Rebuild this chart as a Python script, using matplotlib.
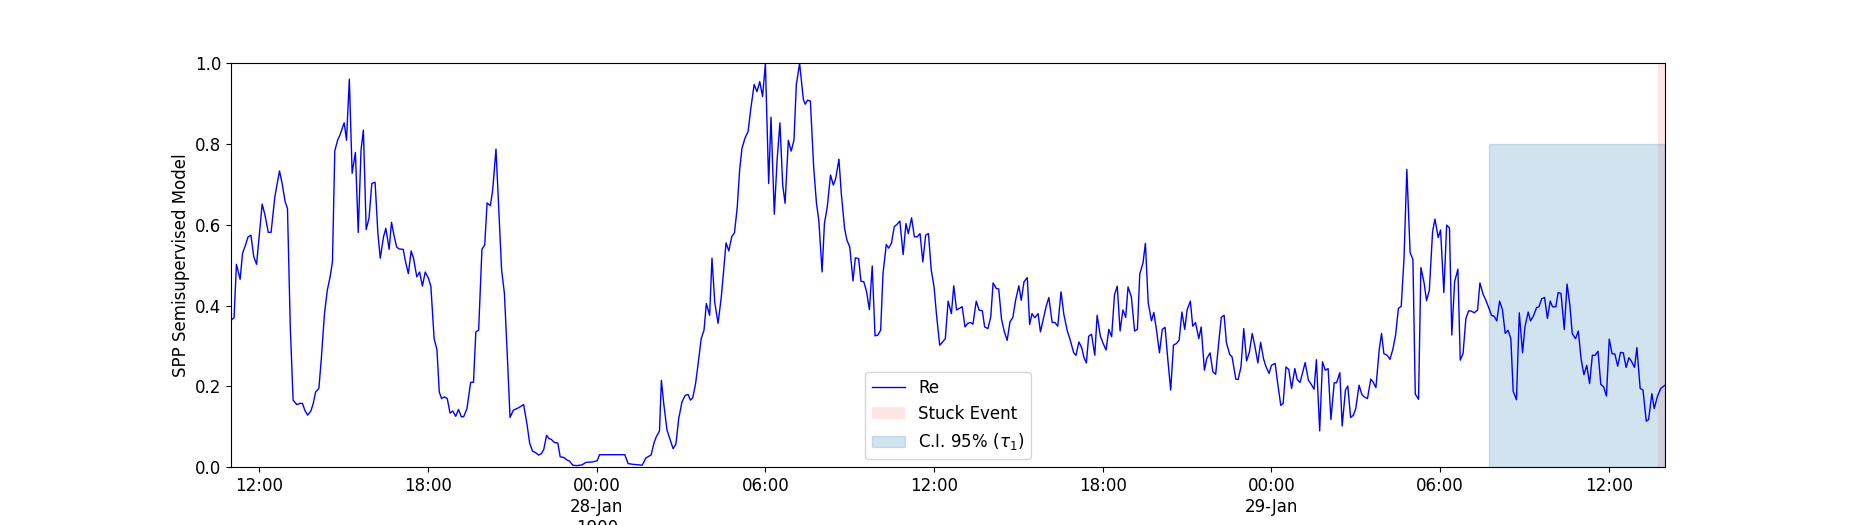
import matplotlib
matplotlib.use("Agg")
import matplotlib.pyplot as plt
import pandas as pd
import numpy as np

# ---------------- data ----------------
start_time = "1900-01-27 11:00"
end_minute = 3060  # 14:00 on 29-Jan

minutes_a = [0,6,11,19,24,29,36,42,48,54,60,66,72,79,85,93,103,108,115,120,126,132,140,147,152,157,163,170,175,180,187,192,199,205,211,216,221,227,232,241,246,252,258,265,271,277,282,288,294,300,307,313,318,325,330,337,342,348,353,358,367,372,378,384,389,396,402,408,414,421,426,433,439,444,449,455,461,467,473,479,485,491,496,503,511,517,522,528,535,541,546,553,558,565,570,577,583,589,595,602]
values_a = [0.364,0.370,0.502,0.465,0.529,0.545,0.570,0.574,0.521,0.502,0.578,0.651,0.624,0.581,0.581,0.669,0.733,0.706,0.657,0.640,0.347,0.166,0.155,0.158,0.158,0.141,0.129,0.139,0.158,0.186,0.195,0.265,0.380,0.438,0.471,0.508,0.783,0.809,0.822,0.852,0.809,0.960,0.727,0.779,0.581,0.785,0.834,0.588,0.616,0.702,0.705,0.578,0.517,0.570,0.591,0.539,0.606,0.570,0.545,0.540,0.539,0.508,0.479,0.535,0.517,0.471,0.483,0.448,0.483,0.467,0.448,0.318,0.291,0.186,0.170,0.174,0.170,0.134,0.139,0.126,0.143,0.125,0.125,0.145,0.210,0.210,0.335,0.339,0.539,0.550,0.654,0.647,0.686,0.787,0.661,0.488,0.430,0.281,0.123,0.141]

minutes_b = [613,624,631,637,643,651,656,662,667,673,678,683,690,697,702,710,715,722,729,738,749,757,770,781,786,799,813,827,840,847,859,870,877,885,891,896,902,907,914,918,923,930,937,943,949,955,962,969,975,980,985,991,996,1003,1009,1014,1021,1026,1032,1039,1046,1051,1056,1062,1068,1074,1080,1085,1090,1097,1103,1109,1116,1122,1128,1134,1140,1147,1152,1159,1165,1171,1177,1182,1189,1195,1201,1206,1213]
values_b = [0.147,0.155,0.108,0.059,0.040,0.035,0.030,0.034,0.044,0.079,0.071,0.069,0.061,0.060,0.026,0.024,0.019,0.015,0.005,0.004,0.006,0.012,0.013,0.016,0.031,0.031,0.031,0.031,0.031,0.009,0.007,0.006,0.005,0.023,0.027,0.030,0.059,0.075,0.090,0.215,0.158,0.092,0.067,0.046,0.057,0.120,0.162,0.178,0.180,0.166,0.172,0.207,0.252,0.318,0.339,0.405,0.376,0.517,0.407,0.356,0.422,0.488,0.555,0.535,0.570,0.580,0.644,0.735,0.789,0.816,0.830,0.888,0.947,0.929,0.954,0.917,0.999,0.702,0.866,0.626,0.760,0.852,0.698,0.653,0.809,0.782,0.809,0.946,0.999]

minutes_c = [1221,1225,1230,1236,1243,1249,1254,1261,1266,1272,1279,1285,1290,1297,1302,1309,1314,1320,1327,1332,1339,1344,1350,1356,1362,1368,1374,1380,1386,1391,1398,1403,1409,1415,1421,1427,1434,1440,1445,1452,1458,1464,1470,1476,1482,1488,1494,1500,1505,1512,1517,1524,1530,1537,1542,1548,1554,1560,1566,1572,1578,1583,1590,1596,1603,1608,1615,1621,1626,1633,1638,1644,1650,1656,1662,1668,1674,1681,1686,1692,1699,1704,1709,1715,1722,1727,1733,1739,1745,1752,1758,1764,1771,1777,1784,1791,1798,1803,1809,1815,1820,1825]
values_c = [0.910,0.898,0.908,0.906,0.743,0.653,0.611,0.483,0.603,0.644,0.723,0.698,0.714,0.762,0.677,0.591,0.562,0.545,0.461,0.518,0.516,0.460,0.459,0.434,0.390,0.498,0.325,0.327,0.339,0.479,0.551,0.542,0.554,0.595,0.601,0.609,0.526,0.603,0.578,0.617,0.570,0.570,0.578,0.508,0.574,0.578,0.488,0.446,0.380,0.302,0.308,0.318,0.411,0.380,0.449,0.389,0.393,0.397,0.347,0.356,0.358,0.354,0.411,0.389,0.387,0.347,0.343,0.372,0.456,0.442,0.441,0.366,0.335,0.314,0.360,0.370,0.413,0.449,0.413,0.459,0.469,0.353,0.380,0.370,0.380,0.335,0.366,0.397,0.420,0.358,0.358,0.349,0.434,0.378,0.339,0.313,0.283,0.277,0.310,0.296,0.271,0.258]

minutes_d = [1830,1836,1843,1848,1855,1861,1867,1873,1879,1885,1891,1897,1903,1909,1914,1921,1928,1934,1939,1946,1951,1957,1964,1969,1975,1981,1987,1993,1999,2005,2011,2017,2023,2029,2035,2040,2047,2052,2058,2065,2070,2077,2082,2089,2095,2101,2107,2113,2119,2124,2131,2136,2144,2149,2155,2161,2167,2173,2179,2185,2191,2197,2203,2208,2215,2220,2228,2233,2240,2245,2251,2257,2263,2270,2275,2281,2287,2292,2299,2304,2311,2316,2323,2329,2335,2341,2347,2354,2359,2366,2371,2378,2383,2389,2395,2400,2407,2413,2418,2425,2432,2437]
values_d = [0.324,0.329,0.277,0.376,0.324,0.306,0.290,0.341,0.323,0.426,0.448,0.337,0.389,0.371,0.446,0.422,0.337,0.341,0.478,0.506,0.554,0.407,0.362,0.383,0.337,0.283,0.341,0.346,0.265,0.191,0.302,0.306,0.314,0.384,0.341,0.389,0.411,0.349,0.358,0.318,0.347,0.240,0.269,0.283,0.236,0.230,0.302,0.371,0.376,0.308,0.279,0.273,0.218,0.217,0.248,0.343,0.263,0.285,0.331,0.298,0.258,0.309,0.269,0.250,0.232,0.252,0.257,0.211,0.153,0.158,0.248,0.242,0.195,0.244,0.217,0.210,0.236,0.259,0.215,0.207,0.193,0.266,0.090,0.261,0.240,0.244,0.118,0.209,0.209,0.234,0.102,0.191,0.201,0.123,0.129,0.145,0.203,0.180,0.174,0.170,0.218,0.211]

minutes_e = [2443,2450,2455,2460,2467,2473,2479,2485,2491,2497,2503,2509,2516,2522,2527,2534,2539,2546,2551,2557,2564,2569,2576,2581,2588,2594,2600,2605,2611,2618,2623,2629,2635,2641,2647,2653,2660,2665,2672,2677,2683,2690,2695,2701,2707,2713,2719,2725,2731,2736,2743,2749,2756,2761,2768,2773,2779,2786,2791,2797,2803,2809,2815,2820,2827,2832,2838,2845,2851,2857,2862,2869,2875,2881,2887,2893,2899,2905,2911,2917,2923,2929,2935,2941,2947,2953,2959,2965,2971,2977,2983,2988,2995,3000,3007,3013,3020,3025,3032,3037,3044,3051,3060]
values_e = [0.197,0.290,0.331,0.281,0.277,0.267,0.291,0.327,0.393,0.398,0.517,0.737,0.531,0.514,0.181,0.168,0.494,0.455,0.412,0.438,0.583,0.614,0.568,0.587,0.432,0.599,0.592,0.327,0.459,0.490,0.265,0.281,0.368,0.387,0.386,0.382,0.389,0.456,0.427,0.415,0.397,0.375,0.374,0.362,0.411,0.390,0.331,0.339,0.318,0.188,0.167,0.382,0.283,0.347,0.384,0.362,0.374,0.395,0.397,0.417,0.420,0.368,0.411,0.397,0.397,0.432,0.430,0.341,0.453,0.401,0.331,0.318,0.337,0.267,0.229,0.252,0.207,0.277,0.277,0.287,0.205,0.199,0.176,0.317,0.281,0.280,0.250,0.284,0.283,0.247,0.271,0.263,0.247,0.296,0.195,0.191,0.114,0.118,0.182,0.145,0.176,0.195,0.203]

# intervals (minutes from start)
ci_start_minute = 2685     # 29-Jan 07:45
ci_upper = 0.8
stuck_start_minute = 3045  # 29-Jan 13:45

tick_times = ["1900-01-27 12:00", "1900-01-27 18:00", "1900-01-28 00:00",
              "1900-01-28 06:00", "1900-01-28 12:00", "1900-01-28 18:00",
              "1900-01-29 00:00", "1900-01-29 06:00", "1900-01-29 12:00"]
tick_labels = ["12:00", "18:00", "00:00\n28-Jan\n1900", "06:00", "12:00",
               "18:00", "00:00\n29-Jan", "06:00", "12:00"]

# ---------------- plot ----------------
plt.rcParams["font.size"] = 12

minutes = minutes_a + minutes_b + minutes_c + minutes_d + minutes_e
values = values_a + values_b + values_c + values_d + values_e
assert len(minutes) == len(values)

t0 = pd.Timestamp(start_time)
times = t0 + pd.to_timedelta(np.array(minutes), unit="min")
t_end = t0 + pd.Timedelta(minutes=end_minute)

fig, ax = plt.subplots(figsize=(18.5, 5.25), dpi=100)

ax.plot(times, values, color="blue", linewidth=1, label="Re")
ax.axvspan(t0 + pd.Timedelta(minutes=stuck_start_minute), t_end,
           color="red", alpha=0.1, lw=0, label="Stuck Event")
ax.axvspan(t0 + pd.Timedelta(minutes=ci_start_minute), t_end,
           ymin=0, ymax=ci_upper, color="C0", alpha=0.2,
           label=r"C.I. 95% ($\tau_1$)")

ax.set_xlim(t0, t_end)
ax.set_ylim(0, 1)
ax.set_xticks(pd.to_datetime(tick_times))
ax.set_xticklabels(tick_labels)
ax.set_ylabel("SPP Semisupervised Model")
ax.legend(loc="lower center")

fig.savefig("out.png", dpi=100)
